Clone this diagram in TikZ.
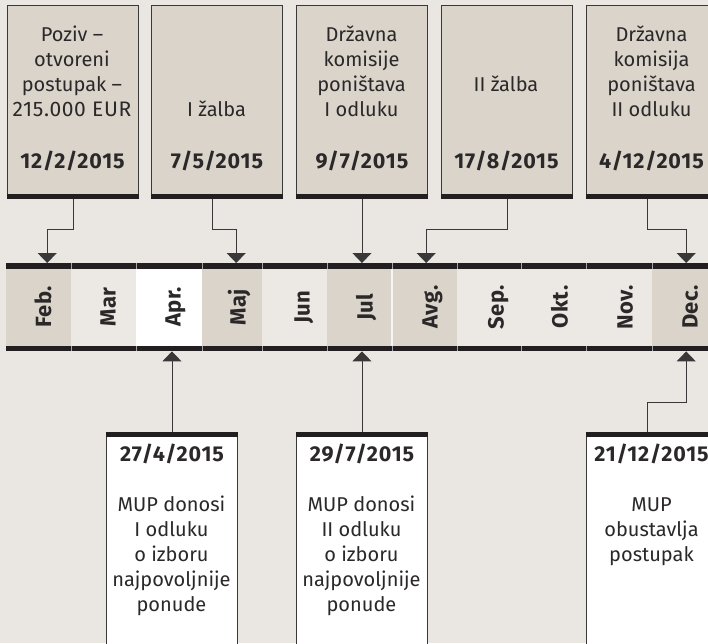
\documentclass[tikz,border=0pt]{standalone}
\usepackage{fontspec}
\setmainfont{Fira Sans}
\usetikzlibrary{arrows.meta}
\definecolor{bg}{HTML}{EAE7E2}
\definecolor{boxfill}{HTML}{DAD4CB}
\definecolor{celllight}{HTML}{ECE9E5}
\definecolor{ink}{HTML}{2B2829}
\definecolor{barc}{HTML}{231F20}
\definecolor{linec}{HTML}{3A3738}
\newcommand\txtlines[1]{\begin{tabular}[t]{@{}c@{}}#1\end{tabular}}
\newcommand\widenum[1]{{\fontsize{21}{25}\selectfont\addfontfeatures{LetterSpace=3}#1}}
\begin{document}
\begin{tikzpicture}[x=1pt,y=-1pt,
  topbox/.style={draw=linec, line width=0.9pt, fill=boxfill, minimum width=131pt, minimum height=193pt, inner sep=0pt, anchor=north west},
  botbox/.style={draw=linec, line width=0.9pt, fill=white, minimum width=131pt, minimum height=240pt, inner sep=0pt, anchor=north west},
  cellbox/.style={draw=none, minimum height=88pt, inner sep=0pt, anchor=north west},
  body/.style={anchor=base, inner sep=0pt, text=ink, font=\fontsize{20}{25}\selectfont},
  datetxt/.style={anchor=base, inner sep=0pt, text=ink, font=\bfseries\fontsize{21.5}{25}\selectfont\addfontfeatures{LetterSpace=4}},
  mlabel/.style={rotate=90, inner sep=0pt, text=ink, text height=15pt, text depth=0pt, font=\bfseries\fontsize{22}{22}\selectfont\addfontfeatures{LetterSpace=2}},
  conn/.style={draw=linec, line width=0.9pt, -{Triangle[width=19pt,length=10pt]}}
]
\useasboundingbox (0,0) rectangle (708,643);
\clip (0,0) rectangle (708,643);
\fill[bg] (0,0) rectangle (708,643);

% ---- top boxes
\node[topbox] (b1) at (7,5) {};
\node[topbox] (b2) at (151,5) {};
\node[topbox] (b3) at (296,5) {};
\node[topbox] (b4) at (441,5) {};
\node[topbox] (b5) at (586,5) {};
\foreach \b in {b1,b2,b3,b4,b5}{
  \fill[barc] (\b.south west) rectangle ([yshift=5pt]\b.south east);
}
\node[body] (t1) at (72,41.7) {\txtlines{Poziv –\\ otvoreni\\ postupak –\\ \widenum{215.000 EUR}}};
\node[datetxt] (d1) at (72.5,168) {12/2/2015};
\node[body] (t2) at (216.5,116.7) {I žalba};
\node[datetxt] (d2) at (217,168) {7/5/2015};
\node[body] (t3) at (361.5,41.7) {\txtlines{Državna\\ komisije\\ poništava\\ I odluku}};
\node[datetxt] (d3) at (362,168) {9/7/2015};
\node[body] (t4) at (506,91.7) {II žalba};
\node[datetxt] (d4) at (506.5,168) {17/8/2015};
\node[body] (t5) at (651.5,41.7) {\txtlines{Državna\\ komisija\\ poništava\\ II odluku}};
\node[datetxt] (d5) at (651.5,168) {4/12/2015};

% ---- timeline cells
\node[cellbox, fill=boxfill,   minimum width=65pt] (feb) at (6,263) {};
\node[cellbox, fill=celllight, minimum width=65pt] (mar) at (71,263) {};
\node[cellbox, fill=white,     minimum width=66pt] (apr) at (136,263) {};
\node[cellbox, fill=boxfill,   minimum width=60pt] (maj) at (202,263) {};
\node[cellbox, fill=celllight, minimum width=65pt] (jun) at (262,263) {};
\node[cellbox, fill=boxfill,   minimum width=65pt] (jul) at (327,263) {};
\node[cellbox, fill=boxfill,   minimum width=65pt] (avg) at (392,263) {};
\node[cellbox, fill=celllight, minimum width=64pt] (sep) at (457,263) {};
\node[cellbox, fill=celllight, minimum width=65pt] (okt) at (521,263) {};
\node[cellbox, fill=celllight, minimum width=66pt] (nov) at (586,263) {};
\node[cellbox, fill=boxfill,   minimum width=65pt] (dec) at (652,263) {};
\draw[white!60!celllight, line width=1.6pt] (392,269) -- (392,346);
\fill[barc] (6,263) rectangle (708,269);
\fill[barc] (6,346) rectangle (708,351);
\foreach \x in {71,136,202,262,327,392,457,521,586,652}{
  \draw[gray!70, line width=0.5pt] (\x,263) -- (\x,269);
  \draw[gray!70, line width=0.5pt] (\x,346) -- (\x,351);
}
\node[mlabel] (lfeb) at (43.5,307) {Feb.};
\node[mlabel] (lmar) at (108,307) {Mar};
\node[mlabel] (lapr) at (173,307) {Apr.};
\node[mlabel] (lmaj) at (238,307) {Maj};
\node[mlabel] (ljun) at (302,307) {Jun};
\node[mlabel] (ljul) at (365,307) {Jul};
\node[mlabel] (lavg) at (430,307) {Avg.};
\node[mlabel] (lsep) at (496,307) {Sep.};
\node[mlabel] (lokt) at (560,307) {Okt.};
\node[mlabel] (lnov) at (625,307) {Nov.};
\node[mlabel] (ldec) at (690,307) {Dec.};

% ---- bottom boxes
\node[botbox] (b6) at (106,432) {};
\node[botbox] (b7) at (296,432) {};
\node[botbox] (b8) at (586,432) {};
\foreach \b in {b6,b7,b8}{
  \fill[barc] ([yshift=-5pt]\b.north west) rectangle (\b.north east);
}
\node[datetxt] (d6) at (172,461.7) {27/4/2015};
\node[body] (t6) at (171.5,511.7) {\txtlines{MUP donosi\\ I odluku\\ o izboru\\ najpovoljnije\\ ponude}};
\node[datetxt] (d7) at (362,461.7) {29/7/2015};
\node[body] (t7) at (361.5,511.7) {\txtlines{MUP donosi\\ II odluku\\ o izboru\\ najpovoljnije\\ ponude}};
\node[datetxt] (d8) at (651.5,461.7) {21/12/2015};
\node[body] (t8) at (651.5,511.7) {\txtlines{MUP\\ obustavlja\\ postupak}};

% ---- connectors
\draw[conn] (b1.south) -- ++(0,31) -| ([xshift=8.5pt]feb.north);
\draw[conn] ([xshift=-4.2pt]b2.south) -- ++(0,31) -| ([xshift=4pt]maj.north);
\draw[conn] (b3.south) -- (b3.south |- jul.north);
\draw[conn] (b4.south) -- ++(0,31) -| ([xshift=1.5pt]avg.north);
\draw[conn] ([xshift=-4.5pt]b5.south) -- ++(0,31) -| ([xshift=1.5pt]dec.north);
\draw[conn] (b6.north) -- (b6.north |- apr.south);
\draw[conn] (b7.north) -- (b7.north |- jul.south);
\draw[conn] ([xshift=-5pt]b8.north) -- ++(0,-30) -| ([xshift=1.5pt]dec.south);
\end{tikzpicture}
\end{document}
